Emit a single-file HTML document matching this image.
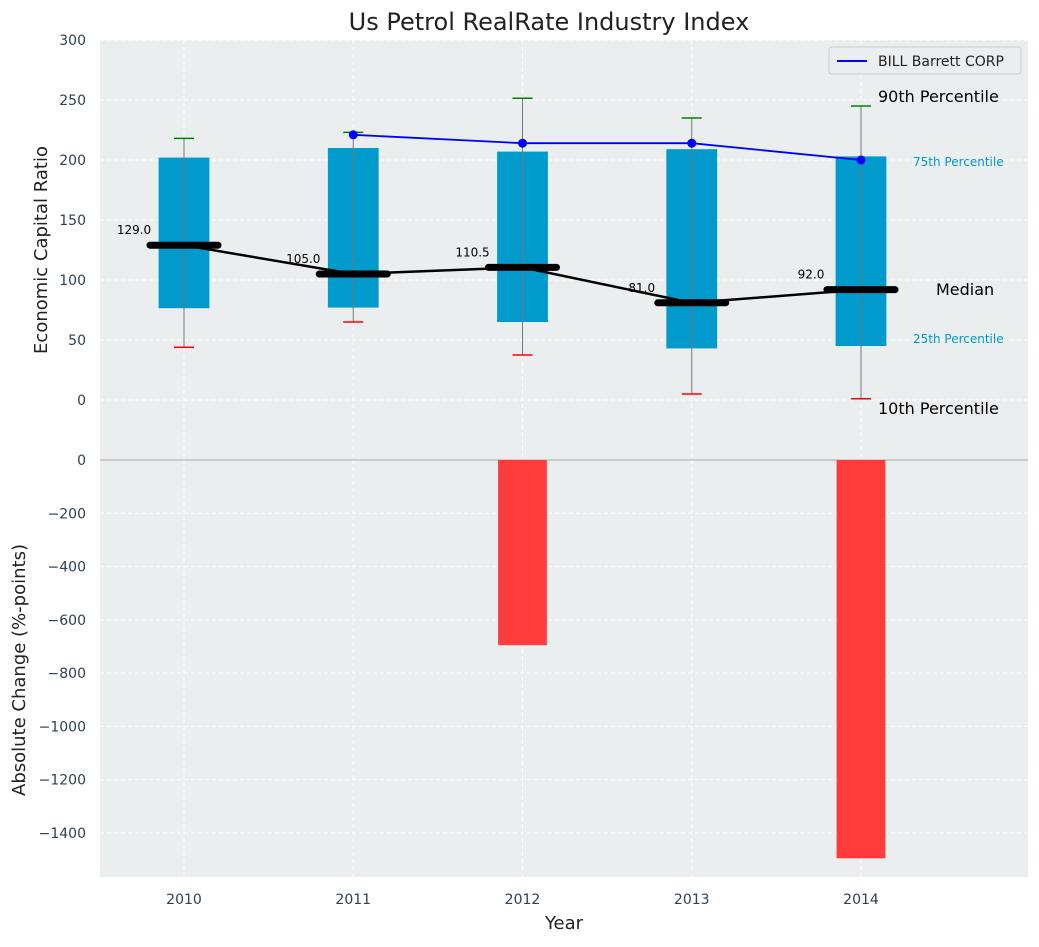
<!DOCTYPE html>
<html><head><meta charset="utf-8">
<style>
body{margin:0;background:#fff;font-family:"Liberation Sans","DejaVu Sans",sans-serif;}
svg text{font-family:"DejaVu Sans","Liberation Sans",sans-serif;}
</style></head>
<body>
<svg id="chart" width="1039" height="942" xmlns="http://www.w3.org/2000/svg">
<rect width="1039" height="942" fill="#fff"/>
<text x="549" y="30" font-size="24" text-anchor="middle" fill="#222">Us Petrol RealRate Industry Index</text>
<rect x="100" y="40" width="928" height="420" fill="#eaeeef"/>
<rect x="100" y="460" width="928" height="417" fill="#eaeeef"/>
<g id="grid"></g>
<g id="marks"></g>
<g id="labels"></g>
<text x="47" y="250" font-size="18" fill="#222" text-anchor="middle" transform="rotate(-90 47 250)">Economic Capital Ratio</text>
<text x="25" y="670" font-size="18" fill="#222" text-anchor="middle" transform="rotate(-90 25 670)">Absolute Change (%-points)</text>
<text x="564" y="929" font-size="18" fill="#222" text-anchor="middle">Year</text>
<g>
<rect x="829" y="47" width="192" height="27" fill="#eaeeef" stroke="#ccc" rx="3"/>
<line x1="837" y1="61" x2="867" y2="61" stroke="#0000ff" stroke-width="2"/>
<text x="878" y="66" font-size="14" fill="#222">BILL Barrett CORP</text>
</g>
<text x="878" y="102" font-size="16" fill="#000">90th Percentile</text>
<text x="913" y="166" font-size="12" fill="#0099cc">75th Percentile</text>
<text x="936" y="295" font-size="16" fill="#000">Median</text>
<text x="913" y="343" font-size="12" fill="#0099cc">25th Percentile</text>
<text x="878" y="414" font-size="16" fill="#000">10th Percentile</text>
</svg>
<script>
const years=[2010,2011,2012,2013,2014];
const p10=[44,65,37.5,5,1];
const p25=[76.5,77,65,43,45];
const medians=[129,105,110.5,81,92];
const p75=[202,210,207,209,203];
const p90=[218,223,251.5,235,245];
const companyYears=[2011,2012,2013,2014];
const companyValues=[221,214,214,200];
const changes=[0,0,-695,0,-1495];
const topTicks=[0,50,100,150,200,250,300];
const bottomTicks=[0,-200,-400,-600,-800,-1000,-1200,-1400];

const NS="http://www.w3.org/2000/svg";
const X=v=>184+(v-2010)*169.25;
const YT=v=>400-v*1.2;
const YB=v=>460-v*(373/1400);
function mk(tag,attrs,parent){const e=document.createElementNS(NS,tag);for(const k in attrs)e.setAttribute(k,attrs[k]);document.getElementById(parent).appendChild(e);return e;}
const neg=s=>String(s).replace('-','\u2212');

topTicks.forEach(t=>{const y=YT(t);
 let g=mk('line',{x1:100,x2:1028,y1:y,y2:y,stroke:'#fff','stroke-dasharray':'4 3','stroke-width':1},'grid');
 
 let l=mk('text',{x:86,y:y+5,'font-size':14,fill:'#2e4053','text-anchor':'end'},'labels');l.textContent=t;
 });
bottomTicks.forEach(t=>{const y=YB(t);
 let g=mk('line',{x1:100,x2:1028,y1:y,y2:y,stroke:'#fff','stroke-dasharray':'4 3','stroke-width':1},'grid');
 
 let l=mk('text',{x:86,y:y+5,'font-size':14,fill:'#2e4053','text-anchor':'end'},'labels');l.textContent=neg(t);
 });
years.forEach(yr=>{const x=X(yr);
 let g=mk('line',{x1:x,x2:x,y1:40,y2:877,stroke:'#fff','stroke-dasharray':'4 3'},'grid');
 
 let l=mk('text',{x:x,y:904,'font-size':14,fill:'#2e4053','text-anchor':'middle'},'labels');l.textContent=yr;
 });
let zl=mk('line',{x1:100,x2:1028,y1:460,y2:460,stroke:'#aaa','stroke-width':1},'grid');


const bw=0.3*169.25;
years.forEach((yr,i)=>{const x=X(yr);
 let b=mk('rect',{x:x-bw/2,y:YT(p75[i]),width:bw,height:YT(p25[i])-YT(p75[i]),fill:'#009acd'},'marks');
 
 let w=mk('line',{x1:x,x2:x,y1:YT(p90[i]),y2:YT(p10[i]),stroke:'#777','stroke-width':1},'marks');
 
 let c1=mk('line',{x1:x-10,x2:x+10,y1:YT(p90[i]),y2:YT(p90[i]),stroke:'green','stroke-width':1.5},'marks');
 
 let c2=mk('line',{x1:x-10,x2:x+10,y1:YT(p10[i]),y2:YT(p10[i]),stroke:'red','stroke-width':1.5},'marks');
 
 if(changes[i]!==0){let r=mk('rect',{x:x-bw/2+1,y:YB(0),width:bw-2,height:YB(changes[i])-YB(0),fill:'#ff3b3b'},'marks');
  }
});
let mp=mk('polyline',{points:years.map((y,i)=>X(y)+','+YT(medians[i])).join(' '),fill:'none',stroke:'#000','stroke-width':2.5},'marks');

years.forEach((yr,i)=>{const x=X(yr),y=YT(medians[i]);
 let m=mk('line',{x1:x-34,x2:x+34,y1:y,y2:y,stroke:'#000','stroke-width':7,'stroke-linecap':'round'},'marks');
 
 let t=mk('text',{x:x-50,y:y-11,'font-size':12,fill:'#000','text-anchor':'middle'},'labels');t.textContent=medians[i].toFixed(1);
 });
let cl=mk('polyline',{points:companyYears.map((y,i)=>X(y)+','+YT(companyValues[i])).join(' '),fill:'none',stroke:'#0000ff','stroke-width':1.8},'marks');

companyYears.forEach((yr,i)=>{let p=mk('circle',{cx:X(yr),cy:YT(companyValues[i]),r:4.5,fill:'#0000ff'},'marks');
 });
</script>
</body></html>
